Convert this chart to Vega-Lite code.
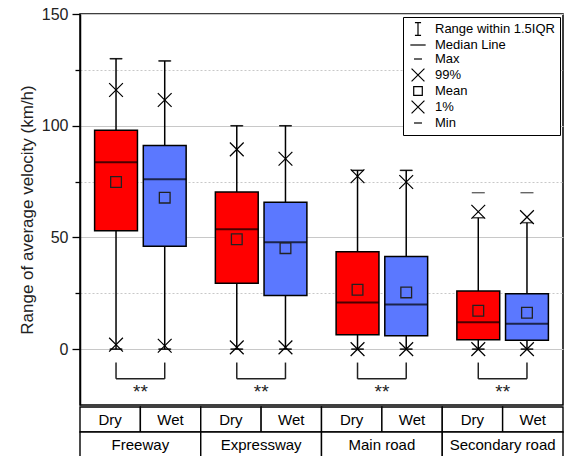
{
  "$schema": "https://vega.github.io/schema/vega-lite/v6.json",
  "padding": {"left": 17, "top": 5, "right": 4, "bottom": 0},
  "spacing": 0,
  "config": {
    "font": "Liberation Sans",
    "concat": {"spacing": 0},
    "axisX": {"grid": false, "domain": false, "ticks": false, "labels": false},
    "axisBand": {"grid": false}
  },
  "datasets": {
    "stats": [
      {"road": "Freeway", "condition": "Dry", "lo": 0, "hi": 130, "q1": 53, "median": 83.6, "q3": 98, "mean": 74.8, "p1": 2, "p99": 116, "min": 0, "max": 130},
      {"road": "Freeway", "condition": "Wet", "lo": 0, "hi": 129, "q1": 46, "median": 76, "q3": 91.2, "mean": 67.8, "p1": 1.5, "p99": 111.5, "min": 0, "max": 129},
      {"road": "Expressway", "condition": "Dry", "lo": 0, "hi": 100, "q1": 29.5, "median": 53.7, "q3": 70.3, "mean": 49.2, "p1": 0.8, "p99": 89.4, "min": 0, "max": 100},
      {"road": "Expressway", "condition": "Wet", "lo": 0, "hi": 100, "q1": 24, "median": 47.8, "q3": 65.7, "mean": 45.2, "p1": 0.8, "p99": 85.2, "min": 0, "max": 100},
      {"road": "Main road", "condition": "Dry", "lo": 0, "hi": 80, "q1": 6.4, "median": 20.9, "q3": 43.6, "mean": 26.6, "p1": 0, "p99": 77.4, "min": 0, "max": 80},
      {"road": "Main road", "condition": "Wet", "lo": 0, "hi": 80, "q1": 6, "median": 20, "q3": 41.5, "mean": 25.4, "p1": 0, "p99": 74.8, "min": 0, "max": 80},
      {"road": "Secondary road", "condition": "Dry", "lo": 0, "hi": 58.8, "q1": 4.2, "median": 12, "q3": 26, "mean": 17.2, "p1": 0, "p99": 61.5, "min": 0, "max": 70},
      {"road": "Secondary road", "condition": "Wet", "lo": 0, "hi": 56.6, "q1": 4, "median": 11.4, "q3": 24.8, "mean": 16.3, "p1": 0, "p99": 59.1, "min": 0, "max": 70}
    ],
    "legendItems": [
      {"item": "Range within 1.5IQR"},
      {"item": "Median Line"},
      {"item": "Max"},
      {"item": "99%"},
      {"item": "Mean"},
      {"item": "1%"},
      {"item": "Min"}
    ]
  },
  "resolve": {"scale": {"x": "independent", "xOffset": "independent", "y": "independent", "color": "independent", "shape": "independent"}},
  "vconcat": [
    {
      "width": 483,
      "height": 391,
      "view": {"stroke": "#000", "strokeWidth": 1.5},
      "data": {"name": "stats"},
      "layer": [
        {
          "mark": {"type": "rule", "color": "#000", "strokeWidth": 1.5},
          "encoding": {
            "x": {"field": "road", "type": "nominal", "scale": {"domain": ["Freeway", "Expressway", "Main road", "Secondary road"], "paddingInner": 0, "paddingOuter": 0}, "axis": null},
            "xOffset": {"field": "condition", "type": "nominal", "scale": {"domain": ["Dry", "Wet"], "paddingInner": 0.12, "paddingOuter": 0.3}},
            "y": {"field": "lo", "type": "quantitative", "scale": {"domain": [-25, 150], "nice": false, "zero": false},
              "axis": {
                "values": [0, 25, 50, 75, 100, 125, 150],
                "labelExpr": "datum.value % 50 == 0 ? datum.label : ''",
                "labelFontSize": 16, "labelColor": "#222", "labelPadding": 4,
                "tickSize": {"condition": {"test": "datum.value % 50 == 0", "value": 8}, "value": 5},
                "tickColor": "#000", "tickWidth": 1.3,
                "domainColor": "#000", "domainWidth": 1.5,
                "grid": true, "gridColor": "#c8c8c8", "gridWidth": 1,
                "gridDash": {"condition": {"test": "datum.value % 50 == 0", "value": []}, "value": [2, 2]},
                "title": "Range of average velocity (km/h)", "titleFontSize": 17, "titleFontWeight": "normal", "titleColor": "#222", "titlePadding": 5
              }},
            "y2": {"field": "hi"}
          }
        },
        {
          "mark": {"type": "tick", "color": "#000", "size": 12, "thickness": 1.5},
          "encoding": {
            "x": {"field": "road", "type": "nominal", "axis": null},
            "xOffset": {"field": "condition", "type": "nominal"},
            "y": {"field": "hi", "type": "quantitative"}
          }
        },
        {
          "mark": {"type": "tick", "color": "#000", "size": 12, "thickness": 1.5},
          "encoding": {
            "x": {"field": "road", "type": "nominal", "axis": null},
            "xOffset": {"field": "condition", "type": "nominal"},
            "y": {"field": "lo", "type": "quantitative"}
          }
        },
        {
          "mark": {"type": "bar", "stroke": "#000", "strokeWidth": 1.5},
          "encoding": {
            "x": {"field": "road", "type": "nominal", "axis": null},
            "xOffset": {"field": "condition", "type": "nominal"},
            "y": {"field": "q1", "type": "quantitative"},
            "y2": {"field": "q3"},
            "color": {"field": "condition", "type": "nominal", "scale": {"domain": ["Dry", "Wet"], "range": ["#ff0000", "#5b78ff"]}, "legend": null}
          }
        },
        {
          "mark": {"type": "tick", "color": "#000", "size": 43, "thickness": 2},
          "encoding": {
            "x": {"field": "road", "type": "nominal", "axis": null},
            "xOffset": {"field": "condition", "type": "nominal"},
            "y": {"field": "median", "type": "quantitative"}
          }
        },
        {
          "mark": {"type": "point", "shape": "square", "filled": false, "size": 115, "stroke": "#222", "strokeWidth": 1.3, "opacity": 1},
          "encoding": {
            "x": {"field": "road", "type": "nominal", "axis": null},
            "xOffset": {"field": "condition", "type": "nominal"},
            "y": {"field": "mean", "type": "quantitative"}
          }
        },
        {
          "mark": {"type": "point", "shape": "M-1,-1L1,1M-1,1L1,-1", "filled": false, "size": 190, "stroke": "#000", "strokeWidth": 1.2, "opacity": 1},
          "encoding": {
            "x": {"field": "road", "type": "nominal", "axis": null},
            "xOffset": {"field": "condition", "type": "nominal"},
            "y": {"field": "p99", "type": "quantitative"}
          }
        },
        {
          "mark": {"type": "point", "shape": "M-1,-1L1,1M-1,1L1,-1", "filled": false, "size": 190, "stroke": "#000", "strokeWidth": 1.2, "opacity": 1},
          "encoding": {
            "x": {"field": "road", "type": "nominal", "axis": null},
            "xOffset": {"field": "condition", "type": "nominal"},
            "y": {"field": "p1", "type": "quantitative"}
          }
        },
        {
          "mark": {"type": "tick", "color": "#000", "size": 13, "thickness": 1.2},
          "encoding": {
            "x": {"field": "road", "type": "nominal", "axis": null},
            "xOffset": {"field": "condition", "type": "nominal"},
            "y": {"field": "max", "type": "quantitative"}
          }
        },
        {
          "mark": {"type": "tick", "color": "#000", "size": 13, "thickness": 1.2},
          "encoding": {
            "x": {"field": "road", "type": "nominal", "axis": null},
            "xOffset": {"field": "condition", "type": "nominal"},
            "y": {"field": "min", "type": "quantitative"}
          }
        },
        {
          "mark": {"type": "rule", "color": "#222", "strokeWidth": 1.5},
          "encoding": {
            "x": {"field": "road", "type": "nominal", "axis": null},
            "xOffset": {"field": "condition", "type": "nominal"},
            "y": {"datum": -6}, "y2": {"datum": -13.3}
          }
        },
        {
          "mark": {"type": "line", "color": "#222", "strokeWidth": 1.5},
          "encoding": {
            "x": {"field": "road", "type": "nominal", "axis": null},
            "xOffset": {"field": "condition", "type": "nominal"},
            "y": {"datum": -13.3}, "detail": {"field": "road"}
          }
        },
        {
          "transform": [{"filter": "datum.condition == 'Dry'"}],
          "mark": {"type": "text", "text": "**", "fontSize": 19, "baseline": "top", "color": "#222"},
          "encoding": {
            "x": {"field": "road", "type": "nominal", "axis": null},
            "y": {"datum": -15}
          }
        },
        {
          "data": {"name": "legendItems"},
          "mark": {"type": "point", "filled": false, "opacity": 0, "color": "#000", "size": 150},
          "encoding": {
            "shape": {
              "field": "item", "type": "nominal",
              "scale": {
                "domain": ["Range within 1.5IQR", "Median Line", "Max", "99%", "Mean", "1%", "Min"],
                "range": [
                  "M-0.5,-1.05H0.5M0,-1.05V1.05M-0.5,1.05H0.5",
                  "M-1.25,0H1.25",
                  "M-0.65,0H0.65",
                  "M-1.05,-1.05L1.05,1.05M-1.05,1.05L1.05,-1.05",
                  "M-0.7,-0.7H0.7V0.7H-0.7Z",
                  "M-1.05,-1.05L1.05,1.05M-1.05,1.05L1.05,-1.05",
                  "M-0.65,0H0.65"
                ]
              },
              "legend": {
                "title": null,
                "orient": "top-right",
                "offset": 3,
                "padding": 5,
                "strokeColor": "#000",
                "fillColor": "#fff",
                "labelFontSize": 13,
                "labelColor": "#000",
                "labelOffset": 10,
                "symbolOffset": 3,
                "rowPadding": 0,
                "symbolSize": 150,
                "symbolOpacity": 1,
                "symbolStrokeColor": "#000",
                "symbolFillColor": "transparent",
                "symbolStrokeWidth": 1.2
              }
            }
          }
        }
      ]
    },
    {
      "width": 483,
      "height": 50,
      "view": {"stroke": null},
      "data": {"name": "stats"},
      "layer": [
        {
          "mark": {"type": "rect", "fill": "#fff", "stroke": "#000", "strokeWidth": 1.4},
          "encoding": {
            "x": {"field": "road", "type": "nominal", "scale": {"domain": ["Freeway", "Expressway", "Main road", "Secondary road"], "paddingInner": 0, "paddingOuter": 0}, "axis": null},
            "xOffset": {"field": "condition", "type": "nominal", "scale": {"domain": ["Dry", "Wet"], "paddingInner": 0, "paddingOuter": 0}},
            "y": {"datum": 1, "type": "quantitative", "scale": {"domain": [0, 2], "nice": false}, "axis": null},
            "y2": {"datum": 2}
          }
        },
        {
          "mark": {"type": "text", "fontSize": 15, "color": "#000", "baseline": "middle"},
          "encoding": {
            "x": {"field": "road", "type": "nominal", "axis": null},
            "xOffset": {"field": "condition", "type": "nominal"},
            "y": {"datum": 1.5, "type": "quantitative"},
            "text": {"field": "condition"}
          }
        },
        {
          "transform": [{"filter": "datum.condition == 'Dry'"}],
          "mark": {"type": "rect", "fill": "#fff", "stroke": "#000", "strokeWidth": 1.4},
          "encoding": {
            "x": {"field": "road", "type": "nominal", "axis": null},
            "y": {"datum": 0, "type": "quantitative"},
            "y2": {"datum": 1}
          }
        },
        {
          "transform": [{"filter": "datum.condition == 'Dry'"}],
          "mark": {"type": "text", "fontSize": 15, "color": "#000", "baseline": "middle"},
          "encoding": {
            "x": {"field": "road", "type": "nominal", "axis": null},
            "y": {"datum": 0.5, "type": "quantitative"},
            "text": {"field": "road"}
          }
        }
      ]
    }
  ]
}
